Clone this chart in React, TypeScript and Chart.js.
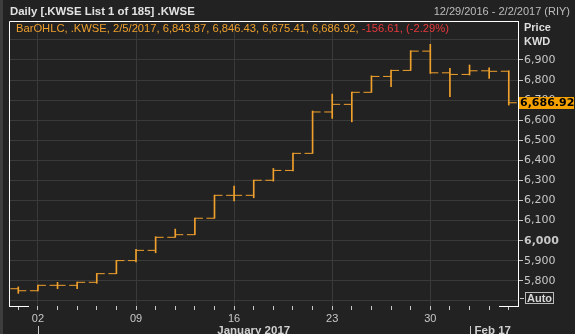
import { useEffect, useRef } from 'react';
import { Chart, registerables } from 'chart.js';

Chart.register(...registerables);

// Trading days (Kuwait: Sun–Thu), 1 Jan 2017 – 5 Feb 2017
const tradingDays = ['01', '02', '03', '04', '05', '08', '09', '10', '11', '12', '15', '16', '17', '18', '19', '22', '23', '24', '25', '26', '29', '30', '31', '01', '02', '05'];
const tickLabels = ['', '02', '', '', '', '', '09', '', '', '', '', '16', '', '', '', '', '23', '', '', '', '', '30', '', '', '', ''];
const monthLabels = ['January 2017', 'Feb 17'];
const monthStarts = [1, 23];

const opens = [5761, 5751, 5778, 5778, 5793, 5836, 5901, 5952, 6017, 6030, 6112, 6226, 6226, 6301, 6350, 6435, 6641, 6679, 6739, 6818, 6848, 6944, 6836, 6828, 6846, 6843.87];
const highs = [5770, 5779, 5793, 5794, 5837, 5902, 5957, 6020, 6058, 6113, 6227, 6272, 6302, 6360, 6436, 6646, 6730, 6740, 6821, 6850, 6946, 6978, 6858, 6875, 6861, 6846.43];
const lows = [5738, 5750, 5761, 5761, 5788, 5836, 5895, 5940, 6017, 6030, 6112, 6198, 6214, 6297, 6347, 6435, 6609, 6592, 6739, 6767, 6848, 6833, 6717, 6825, 6808, 6675.41];
const closes = [5751, 5778, 5778, 5793, 5836, 5901, 5952, 6017, 6030, 6112, 6226, 6226, 6301, 6350, 6435, 6641, 6679, 6739, 6818, 6848, 6944, 6836, 6828, 6846, 6843.53, 6686.92];

const yLabelMin = 5800;
const yLabelMax = 6900;

const titleText = 'Daily [.KWSE List 1 of 185] .KWSE';
const rangeText = '12/29/2016 - 2/2/2017 (RIY)';
const legendName = 'BarOHLC, .KWSE, 2/5/2017';

const BG = '#222222';
const ORANGE = '#f0a02c';
const RED = '#e8383a';
const GRID = '#3a3a3a';
const LABEL = '#c8c8c8';
const SANS = '"Liberation Sans", Arial, sans-serif';
const AXISF = '"DejaVu Sans", Verdana, sans-serif';

const fmt = (v: number) => v.toLocaleString('en-US', { minimumFractionDigits: 2, maximumFractionDigits: 2 });

export default function App() {
  const ref = useRef<HTMLCanvasElement>(null);

  useEffect(() => {
    document.body.style.margin = '0';
    document.body.style.background = BG;
    const canvas = ref.current!;
    const last = closes.length - 1;

    const decor = {
      id: 'decor',
      beforeDraw(chart: any) {
        const { ctx, width, height } = chart;
        ctx.save();
        ctx.fillStyle = BG;
        ctx.fillRect(0, 0, width, height);
        ctx.fillStyle = '#3e3e3e';
        ctx.fillRect(0, 0, 3, height);
        ctx.restore();
      },
      afterDraw(chart: any) {
        const { ctx, chartArea: a, scales } = chart;
        const xs = scales.x;
        const ys = scales.y;
        ctx.save();
        // frame
        ctx.strokeStyle = '#ffffff';
        ctx.lineWidth = 1;
        ctx.beginPath();
        ctx.moveTo(a.left + 0.5, a.bottom);
        ctx.lineTo(a.left + 0.5, a.top + 0.5);
        ctx.lineTo(a.right, a.top + 0.5);
        ctx.moveTo(a.left, a.bottom + 0.5);
        ctx.lineTo(a.left + 20, a.bottom + 0.5);
        ctx.moveTo(a.right - 19, a.bottom + 0.5);
        ctx.lineTo(a.right + 1, a.bottom + 0.5);
        ctx.stroke();

        // header
        ctx.textBaseline = 'middle';
        ctx.textAlign = 'left';
        ctx.font = `bold 11.4px ${SANS}`;
        ctx.fillStyle = '#e2e2e2';
        ctx.fillText(titleText, 10, 12);
        ctx.font = `11px ${SANS}`;
        ctx.fillStyle = '#bdbdbd';
        ctx.textAlign = 'right';
        ctx.fillText(rangeText, 570, 12);

        // legend line
        const chg = closes[last] - closes[last - 1];
        const pct = (chg / closes[last - 1]) * 100;
        const part1 = `${legendName}, ${fmt(opens[last])}, ${fmt(highs[last])}, ${fmt(lows[last])}, ${fmt(closes[last])}, `;
        const part2 = `${fmt(chg)}, (${pct.toFixed(2)}%)`;
        ctx.textAlign = 'left';
        ctx.font = `11.2px ${SANS}`;
        ctx.fillStyle = ORANGE;
        ctx.fillText(part1, 16, 29);
        const w1 = ctx.measureText(part1).width;
        ctx.fillStyle = RED;
        ctx.fillText(part2, 16 + w1, 29);

        // axis title
        ctx.font = `bold 11px ${SANS}`;
        ctx.fillStyle = '#dedede';
        ctx.fillText('Price', 524, 28);
        ctx.fillText('KWD', 524, 42);

        // last price tag
        const py = ys.getPixelForValue(closes[last]);
        ctx.fillStyle = '#f5a100';
        ctx.fillRect(a.right + 1, Math.round(py) - 6, 55, 12);
        ctx.fillStyle = '#000000';
        ctx.font = `bold 11px ${AXISF}`;
        ctx.fillText(fmt(closes[last]), a.right + 2, Math.round(py));

        // Auto box
        ctx.strokeStyle = LABEL;
        ctx.beginPath();
        ctx.moveTo(a.right + 2, 298.5);
        ctx.lineTo(a.right + 6, 298.5);
        ctx.stroke();
        ctx.strokeStyle = '#bbbbbb';
        ctx.strokeRect(525.5, 292.5, 28, 11);
        ctx.fillStyle = '#d8d8d8';
        ctx.font = `bold 11px ${SANS}`;
        ctx.fillText('Auto', 527, 298.5);

        // month separators and labels
        ctx.strokeStyle = LABEL;
        ctx.beginPath();
        monthStarts.forEach((s) => {
          const px = Math.round(xs.getPixelForValue(s)) + 0.5;
          ctx.moveTo(px, 326);
          ctx.lineTo(px, 334);
        });
        ctx.stroke();
        ctx.fillStyle = '#d0d0d0';
        ctx.font = `bold 11.5px ${SANS}`;
        ctx.textBaseline = 'top';
        const x0 = xs.getPixelForValue(monthStarts[0]);
        const x1 = xs.getPixelForValue(monthStarts[1]);
        ctx.textAlign = 'center';
        ctx.fillText(monthLabels[0], (x0 + x1) / 2, 325);
        ctx.textAlign = 'left';
        ctx.fillText(monthLabels[1], x1 + 5, 325);
        ctx.restore();
      },
    };

    const chart = new Chart(canvas, {
      type: 'bar',
      data: {
        datasets: [
          {
            type: 'bar',
            data: lows.map((l, i) => ({ x: i, y: [l, highs[i]] })) as any,
            backgroundColor: ORANGE,
            borderWidth: 0,
            barThickness: 1,
          },
          {
            type: 'scatter',
            data: opens.map((o, i) => ({ x: i, y: o })),
            pointStyle: 'dash',
            rotation: 180,
            radius: 8,
            borderColor: ORANGE,
            backgroundColor: ORANGE,
            borderWidth: 1,
          },
          {
            type: 'scatter',
            data: closes.map((c, i) => ({ x: i, y: c })),
            pointStyle: 'dash',
            rotation: 0,
            radius: 8,
            borderColor: ORANGE,
            backgroundColor: ORANGE,
            borderWidth: 1,
          },
        ] as any,
      },
      options: {
        animation: false,
        responsive: false,
        events: [],
        layout: { padding: { left: 9, top: 21, right: 0, bottom: 0 } },
        plugins: { legend: { display: false }, tooltip: { enabled: false }, title: { display: false } },
        scales: {
          x: {
            type: 'linear',
            offset: false,
            min: -0.474,
            max: 25.47,
            afterFit: (s: any) => { s.height = 28; },
            afterBuildTicks: (s: any) => { s.ticks = tradingDays.map((_, i) => ({ value: i })); },
            ticks: {
              autoSkip: false,
              maxRotation: 0,
              color: LABEL,
              padding: 2,
              font: { family: SANS, size: 11 },
              callback: (v: any) => tickLabels[v] ?? '',
            },
            grid: {
              offset: false,
              color: (c: any) => (c.tick && tickLabels[c.tick.value] ? GRID : 'rgba(0,0,0,0)'),
              tickLength: 4,
              tickColor: LABEL,
            },
            border: { display: false },
          },
          y: {
            type: 'linear',
            position: 'right',
            min: 5675,
            max: 7094,
            afterFit: (s: any) => { s.width = 57; },
            ticks: {
              stepSize: 100,
              includeBounds: false,
              color: LABEL,
              padding: 1,
              font: (c: any) => ({ family: AXISF, size: 11, weight: c.tick && c.tick.value === 6000 ? 'bold' : 'normal' }),
              callback: (v: any) => (v >= yLabelMin && v <= yLabelMax ? Number(v).toLocaleString('en-US') : ''),
            },
            grid: {
              color: GRID,
              tickLength: 5,
              tickColor: (c: any) => (c.tick && c.tick.value >= yLabelMin && c.tick.value <= yLabelMax ? LABEL : 'rgba(0,0,0,0)'),
            },
            border: { color: '#ffffff', width: 1 },
          },
        },
      } as any,
      plugins: [decor],
    });

    return () => chart.destroy();
  }, []);

  return <canvas ref={ref} width={575} height={334} style={{ display: 'block' }} />;
}
